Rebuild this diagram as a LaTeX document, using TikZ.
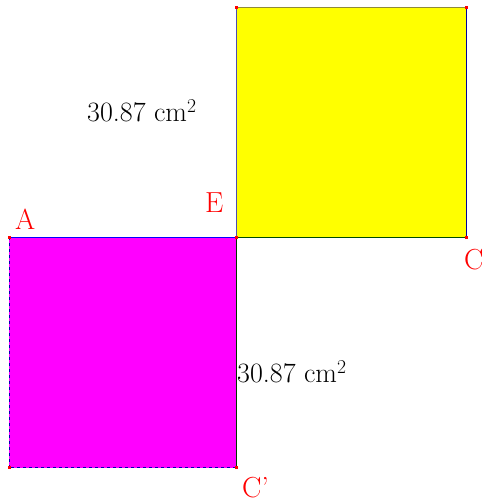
\documentclass[tikz,border=0pt]{standalone}
\usepackage{fontspec}
\definecolor{sqyellow}{RGB}{255,255,0}
\definecolor{sqmagenta}{RGB}{255,0,255}
\begin{document}
\begin{tikzpicture}[x=1pt,y=1pt,
  lbl/.style={anchor=base west,inner sep=0pt,text=red,font=\fontsize{29}{30}\selectfont},
  area/.style={anchor=base west,inner sep=0pt,font=\fontsize{28}{30}\selectfont},
  vdot/.style={fill=red,inner sep=0pt,minimum size=3pt,draw=none}]
\useasboundingbox (0,0) rectangle (486,504);
% vertices
\coordinate (A) at (9,266);
\coordinate (E) at (236,266);
\coordinate (C) at (466,266);
\coordinate (Cp) at (236,36);
\coordinate (B) at (9,36);
\coordinate (Y1) at (236,496);
\coordinate (Y2) at (466,496);
% fills
\fill[sqyellow] (E) rectangle (Y2);
\fill[sqmagenta] (B) rectangle (E);
% yellow edges
\draw[blue!40!gray,line width=1pt] (E) -- (Y1);
\draw[olive!60!gray,line width=1pt] (Y1) -- (Y2);
\draw[blue!60!black,line width=1pt] (Y2) -- (C);
\draw[green!30!black,line width=1pt] (C) -- (E);
% magenta edges
\draw[blue,line width=1pt] (A) -- (E);
\draw[green!20!black,line width=1pt] (E) -- (Cp);
\draw[blue!70!black,dashed,line width=1pt] (Cp) -- (B);
\draw[blue!70!black,dashed,line width=1pt] (B) -- (A);
% vertex dots
\foreach \p in {A,E,C,Cp,B,Y1,Y2} \node[vdot] (d\p) at (\p) {};
% labels
\node[lbl] (lA) at (15,274) {A};
\node[lbl] (lE) at (205,291) {E};
\node[lbl] (lC) at (464,234) {C};
\node[lbl] (lCp) at (242,6) {C'};
\node[area] (t1) at (87,382) {30.87 cm\textsuperscript{2}};
\node[area] (t2) at (237,121) {30.87 cm\textsuperscript{2}};
\end{tikzpicture}
\end{document}
